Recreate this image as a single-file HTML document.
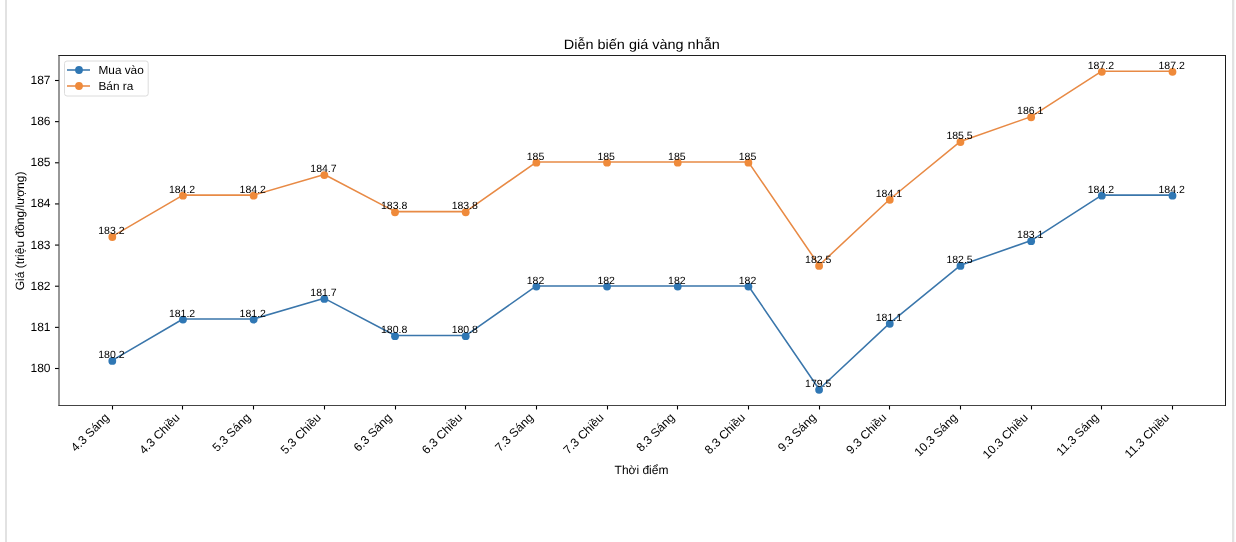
<!DOCTYPE html><html><head><meta charset="utf-8"><style>html,body{margin:0;padding:0;background:#fff;overflow:hidden;width:1236px;height:542px;}svg{display:block;will-change:transform;}text{font-family:"Liberation Sans", sans-serif;fill:#000;text-rendering:geometricPrecision;}</style></head><body>
<svg width="1236" height="542" viewBox="0 0 1236 542">
<rect x="0" y="0" width="1236" height="542" fill="#fff"/>
<rect x="5" y="0" width="2" height="542" fill="#e2e2e2"/>
<rect x="1232" y="0" width="2" height="542" fill="#e2e2e2"/><rect x="1234" y="0" width="1" height="542" fill="#f6f6f6"/>
<text x="641.8" y="48.6" text-anchor="middle" font-size="13.60" textLength="156" lengthAdjust="spacingAndGlyphs">Diễn biến giá vàng nhẫn</text>
<line x1="55" y1="368.50" x2="59" y2="368.50" stroke="#000" stroke-width="1.1"/>
<text x="50.5" y="372.00" text-anchor="end" font-size="12.00">180</text>
<line x1="55" y1="327.36" x2="59" y2="327.36" stroke="#000" stroke-width="1.1"/>
<text x="50.5" y="330.86" text-anchor="end" font-size="12.00">181</text>
<line x1="55" y1="286.21" x2="59" y2="286.21" stroke="#000" stroke-width="1.1"/>
<text x="50.5" y="289.71" text-anchor="end" font-size="12.00">182</text>
<line x1="55" y1="245.07" x2="59" y2="245.07" stroke="#000" stroke-width="1.1"/>
<text x="50.5" y="248.57" text-anchor="end" font-size="12.00">183</text>
<line x1="55" y1="203.93" x2="59" y2="203.93" stroke="#000" stroke-width="1.1"/>
<text x="50.5" y="207.43" text-anchor="end" font-size="12.00">184</text>
<line x1="55" y1="162.79" x2="59" y2="162.79" stroke="#000" stroke-width="1.1"/>
<text x="50.5" y="166.29" text-anchor="end" font-size="12.00">185</text>
<line x1="55" y1="121.64" x2="59" y2="121.64" stroke="#000" stroke-width="1.1"/>
<text x="50.5" y="125.14" text-anchor="end" font-size="12.00">186</text>
<line x1="55" y1="80.50" x2="59" y2="80.50" stroke="#000" stroke-width="1.1"/>
<text x="50.5" y="84.00" text-anchor="end" font-size="12.00">187</text>
<line x1="112.50" y1="405" x2="112.50" y2="409.5" stroke="#000" stroke-width="1.1"/>
<text transform="translate(109.80,418.4) rotate(-45)" text-anchor="end" font-size="12.00">4.3 Sáng</text>
<line x1="182.50" y1="405" x2="182.50" y2="409.5" stroke="#000" stroke-width="1.1"/>
<text transform="translate(180.48,418.4) rotate(-45)" text-anchor="end" font-size="12.00">4.3 Chiều</text>
<line x1="253.50" y1="405" x2="253.50" y2="409.5" stroke="#000" stroke-width="1.1"/>
<text transform="translate(251.16,418.4) rotate(-45)" text-anchor="end" font-size="12.00">5.3 Sáng</text>
<line x1="324.50" y1="405" x2="324.50" y2="409.5" stroke="#000" stroke-width="1.1"/>
<text transform="translate(321.84,418.4) rotate(-45)" text-anchor="end" font-size="12.00">5.3 Chiều</text>
<line x1="395.50" y1="405" x2="395.50" y2="409.5" stroke="#000" stroke-width="1.1"/>
<text transform="translate(392.52,418.4) rotate(-45)" text-anchor="end" font-size="12.00">6.3 Sáng</text>
<line x1="465.50" y1="405" x2="465.50" y2="409.5" stroke="#000" stroke-width="1.1"/>
<text transform="translate(463.20,418.4) rotate(-45)" text-anchor="end" font-size="12.00">6.3 Chiều</text>
<line x1="536.50" y1="405" x2="536.50" y2="409.5" stroke="#000" stroke-width="1.1"/>
<text transform="translate(533.88,418.4) rotate(-45)" text-anchor="end" font-size="12.00">7.3 Sáng</text>
<line x1="607.50" y1="405" x2="607.50" y2="409.5" stroke="#000" stroke-width="1.1"/>
<text transform="translate(604.56,418.4) rotate(-45)" text-anchor="end" font-size="12.00">7.3 Chiều</text>
<line x1="677.50" y1="405" x2="677.50" y2="409.5" stroke="#000" stroke-width="1.1"/>
<text transform="translate(675.24,418.4) rotate(-45)" text-anchor="end" font-size="12.00">8.3 Sáng</text>
<line x1="748.50" y1="405" x2="748.50" y2="409.5" stroke="#000" stroke-width="1.1"/>
<text transform="translate(745.92,418.4) rotate(-45)" text-anchor="end" font-size="12.00">8.3 Chiều</text>
<line x1="819.50" y1="405" x2="819.50" y2="409.5" stroke="#000" stroke-width="1.1"/>
<text transform="translate(816.60,418.4) rotate(-45)" text-anchor="end" font-size="12.00">9.3 Sáng</text>
<line x1="889.50" y1="405" x2="889.50" y2="409.5" stroke="#000" stroke-width="1.1"/>
<text transform="translate(887.28,418.4) rotate(-45)" text-anchor="end" font-size="12.00">9.3 Chiều</text>
<line x1="960.50" y1="405" x2="960.50" y2="409.5" stroke="#000" stroke-width="1.1"/>
<text transform="translate(957.96,418.4) rotate(-45)" text-anchor="end" font-size="12.00">10.3 Sáng</text>
<line x1="1031.50" y1="405" x2="1031.50" y2="409.5" stroke="#000" stroke-width="1.1"/>
<text transform="translate(1028.64,418.4) rotate(-45)" text-anchor="end" font-size="12.00">10.3 Chiều</text>
<line x1="1101.50" y1="405" x2="1101.50" y2="409.5" stroke="#000" stroke-width="1.1"/>
<text transform="translate(1099.32,418.4) rotate(-45)" text-anchor="end" font-size="12.00">11.3 Sáng</text>
<line x1="1172.50" y1="405" x2="1172.50" y2="409.5" stroke="#000" stroke-width="1.1"/>
<text transform="translate(1170.00,418.4) rotate(-45)" text-anchor="end" font-size="12.00">11.3 Chiều</text>
<text x="641.5" y="473.7" text-anchor="middle" font-size="12.00">Thời điểm</text>
<text transform="translate(23.9,230.9) rotate(-90)" text-anchor="middle" font-size="12.00">Giá (triệu đồng/lượng)</text>
<polyline points="112.30,360.31 182.98,319.01 253.66,319.01 324.34,298.36 395.02,335.53 465.70,335.53 536.38,285.97 607.06,285.97 677.74,285.97 748.42,285.97 819.10,389.22 889.78,323.14 960.46,265.32 1031.14,240.54 1101.82,195.11 1172.50,195.11" fill="none" stroke="#3a76ab" stroke-width="1.55" stroke-linejoin="round" stroke-linecap="butt"/>
<circle cx="112.30" cy="360.91" r="3.9" fill="#2f77b4"/>
<circle cx="182.98" cy="319.61" r="3.9" fill="#2f77b4"/>
<circle cx="253.66" cy="319.61" r="3.9" fill="#2f77b4"/>
<circle cx="324.34" cy="298.96" r="3.9" fill="#2f77b4"/>
<circle cx="395.02" cy="336.13" r="3.9" fill="#2f77b4"/>
<circle cx="465.70" cy="336.13" r="3.9" fill="#2f77b4"/>
<circle cx="536.38" cy="286.57" r="3.9" fill="#2f77b4"/>
<circle cx="607.06" cy="286.57" r="3.9" fill="#2f77b4"/>
<circle cx="677.74" cy="286.57" r="3.9" fill="#2f77b4"/>
<circle cx="748.42" cy="286.57" r="3.9" fill="#2f77b4"/>
<circle cx="819.10" cy="389.82" r="3.9" fill="#2f77b4"/>
<circle cx="889.78" cy="323.74" r="3.9" fill="#2f77b4"/>
<circle cx="960.46" cy="265.92" r="3.9" fill="#2f77b4"/>
<circle cx="1031.14" cy="241.14" r="3.9" fill="#2f77b4"/>
<circle cx="1101.82" cy="195.71" r="3.9" fill="#2f77b4"/>
<circle cx="1172.50" cy="195.71" r="3.9" fill="#2f77b4"/>
<polyline points="112.30,236.41 182.98,195.11 253.66,195.11 324.34,174.46 395.02,211.63 465.70,211.63 536.38,162.07 607.06,162.07 677.74,162.07 748.42,162.07 819.10,265.32 889.78,199.24 960.46,141.42 1031.14,116.64 1101.82,71.21 1172.50,71.21" fill="none" stroke="#e88a45" stroke-width="1.55" stroke-linejoin="round" stroke-linecap="butt"/>
<circle cx="112.30" cy="237.01" r="3.9" fill="#ef8a3a"/>
<circle cx="182.98" cy="195.71" r="3.9" fill="#ef8a3a"/>
<circle cx="253.66" cy="195.71" r="3.9" fill="#ef8a3a"/>
<circle cx="324.34" cy="175.06" r="3.9" fill="#ef8a3a"/>
<circle cx="395.02" cy="212.23" r="3.9" fill="#ef8a3a"/>
<circle cx="465.70" cy="212.23" r="3.9" fill="#ef8a3a"/>
<circle cx="536.38" cy="162.67" r="3.9" fill="#ef8a3a"/>
<circle cx="607.06" cy="162.67" r="3.9" fill="#ef8a3a"/>
<circle cx="677.74" cy="162.67" r="3.9" fill="#ef8a3a"/>
<circle cx="748.42" cy="162.67" r="3.9" fill="#ef8a3a"/>
<circle cx="819.10" cy="265.92" r="3.9" fill="#ef8a3a"/>
<circle cx="889.78" cy="199.84" r="3.9" fill="#ef8a3a"/>
<circle cx="960.46" cy="142.02" r="3.9" fill="#ef8a3a"/>
<circle cx="1031.14" cy="117.24" r="3.9" fill="#ef8a3a"/>
<circle cx="1101.82" cy="71.81" r="3.9" fill="#ef8a3a"/>
<circle cx="1172.50" cy="71.81" r="3.9" fill="#ef8a3a"/>
<text x="111.40" y="358.16" text-anchor="middle" font-size="10.50">180.2</text>
<text x="182.08" y="316.86" text-anchor="middle" font-size="10.50">181.2</text>
<text x="252.76" y="316.86" text-anchor="middle" font-size="10.50">181.2</text>
<text x="323.44" y="296.21" text-anchor="middle" font-size="10.50">181.7</text>
<text x="394.12" y="333.38" text-anchor="middle" font-size="10.50">180.8</text>
<text x="464.80" y="333.38" text-anchor="middle" font-size="10.50">180.8</text>
<text x="535.48" y="283.82" text-anchor="middle" font-size="10.50">182</text>
<text x="606.16" y="283.82" text-anchor="middle" font-size="10.50">182</text>
<text x="676.84" y="283.82" text-anchor="middle" font-size="10.50">182</text>
<text x="747.52" y="283.82" text-anchor="middle" font-size="10.50">182</text>
<text x="818.20" y="387.07" text-anchor="middle" font-size="10.50">179.5</text>
<text x="888.88" y="320.99" text-anchor="middle" font-size="10.50">181.1</text>
<text x="959.56" y="263.17" text-anchor="middle" font-size="10.50">182.5</text>
<text x="1030.24" y="238.39" text-anchor="middle" font-size="10.50">183.1</text>
<text x="1100.92" y="192.96" text-anchor="middle" font-size="10.50">184.2</text>
<text x="1171.60" y="192.96" text-anchor="middle" font-size="10.50">184.2</text>
<text x="111.40" y="234.26" text-anchor="middle" font-size="10.50">183.2</text>
<text x="182.08" y="192.96" text-anchor="middle" font-size="10.50">184.2</text>
<text x="252.76" y="192.96" text-anchor="middle" font-size="10.50">184.2</text>
<text x="323.44" y="172.31" text-anchor="middle" font-size="10.50">184.7</text>
<text x="394.12" y="209.48" text-anchor="middle" font-size="10.50">183.8</text>
<text x="464.80" y="209.48" text-anchor="middle" font-size="10.50">183.8</text>
<text x="535.48" y="159.92" text-anchor="middle" font-size="10.50">185</text>
<text x="606.16" y="159.92" text-anchor="middle" font-size="10.50">185</text>
<text x="676.84" y="159.92" text-anchor="middle" font-size="10.50">185</text>
<text x="747.52" y="159.92" text-anchor="middle" font-size="10.50">185</text>
<text x="818.20" y="263.17" text-anchor="middle" font-size="10.50">182.5</text>
<text x="888.88" y="197.09" text-anchor="middle" font-size="10.50">184.1</text>
<text x="959.56" y="139.27" text-anchor="middle" font-size="10.50">185.5</text>
<text x="1030.24" y="114.49" text-anchor="middle" font-size="10.50">186.1</text>
<text x="1100.92" y="69.06" text-anchor="middle" font-size="10.50">187.2</text>
<text x="1171.60" y="69.06" text-anchor="middle" font-size="10.50">187.2</text>
<line x1="58.50" y1="55.50" x2="1226.00" y2="55.50" stroke="#202020" stroke-width="1"/>
<line x1="58.50" y1="405.50" x2="1226.00" y2="405.50" stroke="#444" stroke-width="1.05"/>
<line x1="59.00" y1="55.00" x2="59.00" y2="406.00" stroke="#3a3a3a" stroke-width="1.05"/>
<line x1="1225.50" y1="55.00" x2="1225.50" y2="406.00" stroke="#1c1c1c" stroke-width="1"/>
<rect x="64.5" y="61" width="83.7" height="35" rx="2.5" fill="#fff" fill-opacity="0.8" stroke="#dcdcdc" stroke-width="1"/>
<line x1="67" y1="70" x2="90" y2="70" stroke="#3a76ab" stroke-width="1.55"/><circle cx="79" cy="70" r="3.9" fill="#2f77b4"/>
<line x1="67" y1="86" x2="90" y2="86" stroke="#e88a45" stroke-width="1.55"/><circle cx="79" cy="86" r="3.9" fill="#ef8a3a"/>
<text x="98.5" y="73.5" font-size="11.80">Mua vào</text>
<text x="98.5" y="89.5" font-size="11.80">Bán ra</text>
</svg></body></html>
